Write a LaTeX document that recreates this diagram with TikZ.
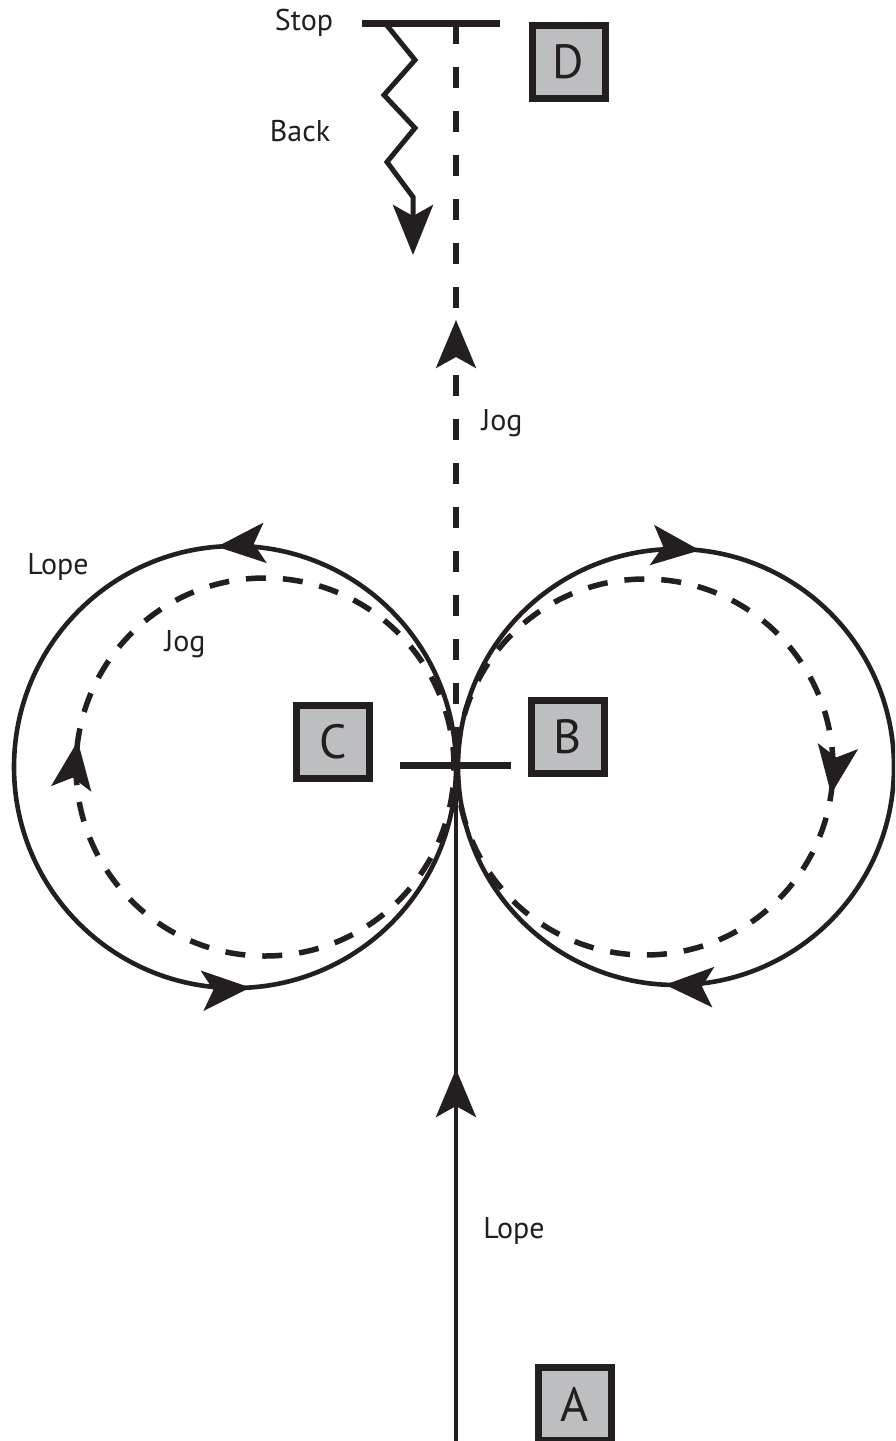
\documentclass[tikz,border=0pt]{standalone}
\usepackage{fontspec}
\setmainfont{PT Sans}
\usetikzlibrary{arrows.meta,decorations.markings}
\definecolor{ink}{HTML}{231F20}
\definecolor{boxgray}{HTML}{BCBEC0}
\tikzset{
  tip/.tip={Stealth[length=48pt,width=40pt,inset=11pt]},
  solidline/.style={draw=ink,line width=4.6pt},
  dashline/.style={draw=ink,line width=5.5pt,dash pattern=on 21pt off 23pt},
  dashcircle/.style={draw=ink,line width=5.5pt,dash pattern=on 20pt off 17pt},
  letterbox/.style={draw=ink,fill=boxgray,line width=7pt,minimum width=73pt,minimum height=73pt,inner sep=0pt,text=ink,font=\fontsize{48}{48}\selectfont},
  lbl/.style={text=ink,font=\fontsize{30}{30}\selectfont,inner sep=0pt},
  bar/.style={draw=ink,line width=7pt},
}
\begin{document}
\begin{tikzpicture}[x=1pt,y=-1pt]
\clip (0,0) rectangle (895,1441);
\fill[white] (0,0) rectangle (895,1441);

% coordinates
\coordinate (X) at (456,765);
\coordinate (bottom) at (456,1445);
\coordinate (top) at (456,23);
\coordinate (cl) at (400,765);
\coordinate (cr) at (511,765);
\coordinate (sl) at (362,23);
\coordinate (sr) at (500,23);

% solid circles
\draw[solidline,postaction={decorate},decoration={markings,
   mark=at position 0.263 with {\arrow[ink]{tip}},
   mark=at position 0.761 with {\arrow[ink]{tip}}}]
   (235,767) circle[radius=221pt];
\draw[solidline,postaction={decorate},decoration={markings,
   mark=at position 0.2325 with {\arrowreversed[ink]{tip}},
   mark=at position 0.742 with {\arrowreversed[ink]{tip}}}]
   (676,767) circle[radius=218pt];

% dashed circles
\draw[dashcircle,postaction={decorate},decoration={markings,
   mark=at position 0.478 with {\arrowreversed[ink,solid]{tip}}}]
   (265,767) circle[radius=189pt];
\draw[dashcircle,postaction={decorate},decoration={markings,
   mark=at position 0.977 with {\arrowreversed[ink,solid]{tip}}}]
   (645,767) circle[radius=188pt];

% central solid line (Lope)
\draw[solidline,postaction={decorate},decoration={markings,
   mark=at position 376pt with {\arrow[ink]{tip}}}]
   (bottom) -- (X);

% central dashed line (Jog)
\draw[dashline] (top) -- (X);
\draw[draw=none,postaction={decorate},decoration={markings,
   mark=at position 445pt with {\arrow[ink,solid,line width=4pt]{tip}}}]
   (X) -- (top);

% crossing bar
\draw[bar] (cl) -- (cr);

% stop bar
\draw[bar] (sl) -- (sr);

% zigzag Back
\coordinate (z0) at (385,23);
\coordinate (zend) at (413,255);
\draw[draw=ink,line width=5pt,line join=miter,-{Stealth[length=50pt,width=40pt,inset=11pt]}]
  (z0) -- (415,60) -- (384,95) -- (415,128) -- (387,162) -- (413,197) -- (zend);

% boxes
\node[letterbox] (D) at (568.5,61.5) {D};
\node[letterbox] (C) at (333,742) {C};
\node[letterbox] (B) at (567.5,737) {B};
\node[letterbox] (A) at (575,1404) {A};

% labels
\node[lbl] (stop) at (304,23) {Stop};
\node[lbl] (back) at (300,131) {Back};
\node[lbl] (jog1) at (502,423) {Jog};
\node[lbl] (lope1) at (58,567) {Lope};
\node[lbl] (jog2) at (185,644) {Jog};
\node[lbl] (lope2) at (514,1231) {Lope};
\end{tikzpicture}
\end{document}
